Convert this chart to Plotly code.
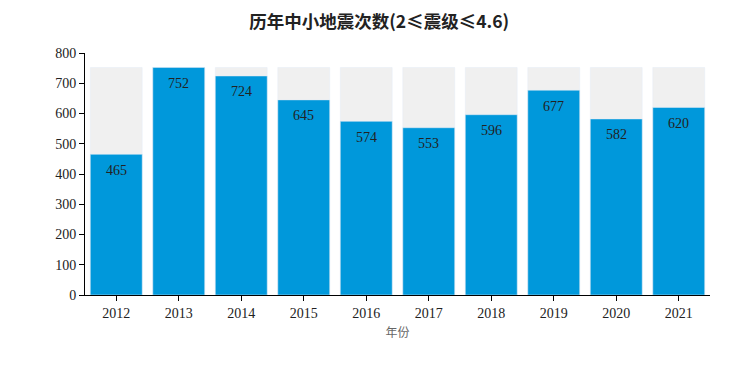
import plotly.graph_objects as go

years = ["2012", "2013", "2014", "2015", "2016", "2017", "2018", "2019", "2020", "2021"]
counts = [465, 752, 724, 645, 574, 553, 596, 677, 582, 620]
bg_value = max(counts)
pos = list(range(len(years)))

fig = go.Figure()
fig.add_trace(go.Bar(x=pos, y=[bg_value] * len(years), marker_color="#f0f0f0",
                     hoverinfo="skip", showlegend=False))
fig.add_trace(go.Bar(x=pos, y=counts, marker_color="#0098db", showlegend=False))

for p, v in zip(pos, counts):
    fig.add_annotation(x=p, y=v, text=str(v), showarrow=False, yshift=-16,
                       font=dict(family="Liberation Serif", size=14, color="#222"))

fig.update_layout(
    width=756, height=378,
    margin=dict(l=77, r=54, t=45, b=91),
    barmode="overlay", bargap=0.17,
    plot_bgcolor="white", paper_bgcolor="white",
    title=dict(text="<b>历年中小地震次数(2≤震级≤4.6)</b>", x=0.491, xanchor="center", y=0.962, yanchor="middle",
               font=dict(family="Noto Sans CJK SC", size=17.5, color="#222")),
    font=dict(family="Liberation Serif", size=14, color="#222"),
)
fig.update_xaxes(range=[-0.5, len(years) - 0.5], tickmode="array", tickvals=pos, ticktext=years,
                 showline=True, linecolor="black", linewidth=1, ticks="outside", ticklen=5,
                 tickcolor="black", showgrid=False, zeroline=False,
                 title=dict(text="年份", font=dict(family="Noto Sans CJK SC", size=12, color="#666"), standoff=8))
fig.update_yaxes(range=[0, 800], dtick=100, showline=True, linecolor="black", linewidth=1,
                 ticks="outside", ticklen=5, tickcolor="black", showgrid=False, zeroline=False)

fig.write_html("out.html")
